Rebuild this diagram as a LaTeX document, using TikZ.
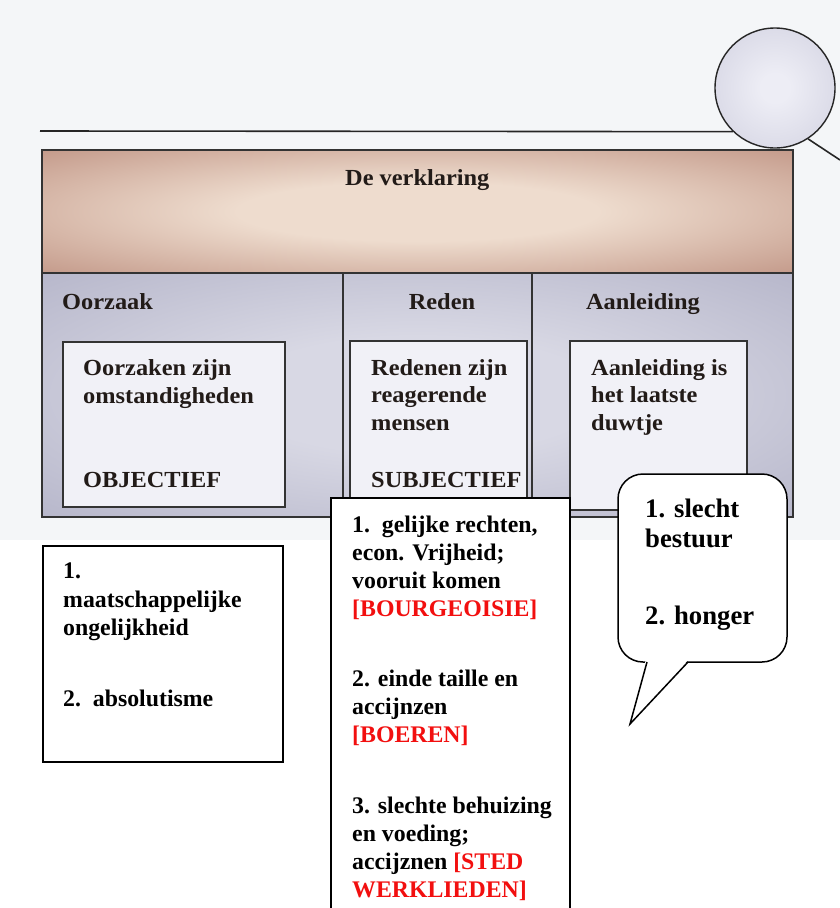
\documentclass[tikz,border=0pt]{standalone}
\usepackage{fontspec}
\setmainfont{Liberation Serif}
\newfontfamily\scanfont{Liberation Serif}[FakeStretch=1.06]
\usepackage{tikz}
\usepackage{xcolor}
\definecolor{scanbg}{HTML}{F4F6F8}
\definecolor{scanink}{HTML}{221B18}
\definecolor{headin}{HTML}{EEDCCE}
\definecolor{headout}{HTML}{BC8E7E}
\definecolor{panelin}{HTML}{D8D8E4}
\definecolor{panelout}{HTML}{AEAEC4}
\definecolor{ballin}{HTML}{EDEDF5}
\definecolor{ballout}{HTML}{B0B0C8}
\definecolor{cardfill}{HTML}{F1F1F7}
\definecolor{alarm}{HTML}{F20F0F}
\pgfdeclareradialshading{headglow}{\pgfpoint{0bp}{0bp}}{color(0bp)=(headin); color(12bp)=(headin); color(40bp)=(headout); color(75bp)=(headout)}
\pgfdeclareradialshading{panelglow}{\pgfpoint{0bp}{0bp}}{color(0bp)=(panelin); color(12bp)=(panelin); color(42bp)=(panelout); color(75bp)=(panelout)}
\pgfdeclareradialshading{ballglow}{\pgfpoint{0bp}{0bp}}{color(0bp)=(ballin); color(6bp)=(ballin); color(36bp)=(ballin!55!ballout); color(50bp)=(ballout); color(75bp)=(ballout)}

\begin{document}
\begin{tikzpicture}[x=1pt,y=-1pt]
    \tikzset{
        frame/.style={draw=black!80, line width=1.2pt},
        card/.style={draw=black!80, line width=1.1pt, fill=cardfill},
        sheet/.style={draw=black, line width=1.4pt},
        scan/.style={font=\scanfont\bfseries\fontsize{23}{28}\selectfont, text=scanink, inner sep=0pt, align=left},
        note/.style={font=\bfseries\fontsize{23.8}{28}\selectfont, inner sep=0pt, align=left, anchor=base west},
        bubble/.style={draw=black, line width=1.5pt, fill=white, rounded corners=25pt}
    }
    \useasboundingbox (0,0) rectangle (840,908);
    \fill[scanbg] (0,0) rectangle (840,540);
    \node[circle, minimum size=120pt, inner sep=0pt, draw=black!85, line width=1.4pt, shading=ballglow] (ball) at (775,88) {};
    \coordinate (rulestart) at (40,131);
    \coordinate (ropeend) at (840,160);
    \draw[black!85, line width=1.6pt] (rulestart) -- (ball.226);
    \draw[black!85, line width=1.6pt] (ball.-57) -- (ropeend);

    \shade[shading=headglow, frame] (42,150) rectangle (793,273);
    \shade[shading=panelglow, frame] (42,273) rectangle (793,517);
    \draw[frame] (343,273) -- (343,517);
    \draw[frame] (532,273) -- (532,517);
    \draw[card] (63,342) rectangle (285,507);
    \draw[card] (350,341) rectangle (527,507);
    \draw[card] (570,341) rectangle (747,510);

    % multi-line nodes sit on the baseline of their last line
    \node[scan, anchor=base west] (verklaring) at (345,185) {De verklaring};
    \node[scan, anchor=base west] (oorzaak) at (62,309) {Oorzaak};
    \node[scan, anchor=base] (reden) at (442,309) {Reden};
    \node[scan, anchor=base] (aanleiding) at (643,309) {Aanleiding};
    \node[scan, anchor=base west] (oorzaken) at (83,403) {Oorzaken zijn\\omstandigheden};
    \node[scan, anchor=base west] (objectief) at (83,487) {OBJECTIEF};
    \node[scan, anchor=base west, font=\scanfont\bfseries\fontsize{23}{27.5}\selectfont] (redenen) at (371,430) {Redenen zijn\\reagerende\\mensen};
    \node[scan, anchor=base west] (subjectief) at (371,487) {SUBJECTIEF};
    \node[scan, anchor=base west, font=\scanfont\bfseries\fontsize{23}{27.5}\selectfont] (duwtje) at (591,430) {Aanleiding is\\het laatste\\duwtje};

    \filldraw[sheet, fill=white] (43,546) rectangle (283,762);
    \node[note, font=\bfseries\fontsize{23.8}{28.5}\selectfont] (oorzaaklijst) at (63,706) {1.\\maatschappelijke\\ongelijkheid\\[42pt]2.\ \ absolutisme};

    \fill[white] (331,498) rectangle (570,915);
    \draw[sheet] (331,915) -- (331,498) -- (570,498) -- (570,915);
    \node[note] (redenlijst) at (352,897) {1.\ \ gelijke rechten,\\econ. Vrijheid;\\vooruit komen\\\textcolor{alarm}{[BOURGEOISIE]}\\[42pt]2. einde taille en\\accijnzen\\\textcolor{alarm}{[BOEREN]}\\[43pt]3. slechte behuizing\\en voeding;\\accijznen \textcolor{alarm}{[STED}\\\textcolor{alarm}{WERKLIEDEN]}};

    \draw[bubble] (618,474) rectangle (787,662);
    \fill[white] (646,659) -- (630,724) -- (689,659) -- cycle;
    \draw[black, line width=1.5pt, line join=miter] (647,662) -- (630,724) -- (688,662);
    \node[note, font=\bfseries\fontsize{26.7}{30}\selectfont] (aanleidinglijst) at (645,624) {1. slecht\\bestuur\\[47pt]2. honger};
\end{tikzpicture}
\end{document}
